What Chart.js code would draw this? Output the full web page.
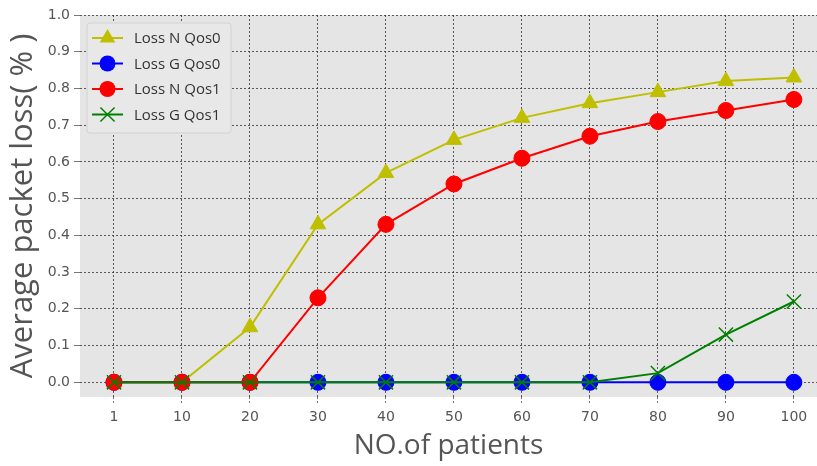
<!DOCTYPE html>
<html>
<head>
<meta charset="utf-8">
<script src="https://cdn.jsdelivr.net/npm/chart.js@4.4.0/dist/chart.umd.min.js"></script>
<style>
  html, body { margin: 0; padding: 0; background: #ffffff; overflow: hidden; }
  #wrap { width: 817px; height: 466px; }
</style>
</head>
<body>
<div id="wrap"><canvas id="c" width="817" height="466"></canvas></div>
<script>
// ---- data ----
const categories = ['1', '10', '20', '30', '40', '50', '60', '70', '80', '90', '100'];
const lossNQos0 = [0, 0, 0.15, 0.43, 0.57, 0.66, 0.72, 0.76, 0.79, 0.82, 0.83];
const lossGQos0 = [0, 0, 0, 0, 0, 0, 0, 0, 0, 0, 0];
const lossNQos1 = [0, 0, 0, 0.23, 0.43, 0.54, 0.61, 0.67, 0.71, 0.74, 0.77];
const lossGQos1 = [0, 0, 0, 0, 0, 0, 0, 0, 0.025, 0.13, 0.22];
const yTickValues = [0.0, 0.1, 0.2, 0.3, 0.4, 0.5, 0.6, 0.7, 0.8, 0.9, 1.0];
const seriesNames = ['Loss N Qos0', 'Loss G Qos0', 'Loss N Qos1', 'Loss G Qos1'];

const FONT = "'DejaVu Sans', sans-serif";
const TFONT = "'Open Sans', sans-serif";

function pts(arr) { return arr.map((v, i) => ({ x: i, y: v })); }

const datasets = [
  { label: seriesNames[0], data: pts(lossNQos0), borderColor: '#bfbf00', backgroundColor: '#bfbf00',
    pointStyle: 'triangle', pointRadius: 9, pointBorderWidth: 1, order: 4 },
  { label: seriesNames[1], data: pts(lossGQos0), borderColor: '#0000ff', backgroundColor: '#0000ff',
    pointStyle: 'circle', pointRadius: 8, pointBorderWidth: 1, order: 3 },
  { label: seriesNames[2], data: pts(lossNQos1), borderColor: '#ff0000', backgroundColor: '#ff0000',
    pointStyle: 'circle', pointRadius: 8, pointBorderWidth: 1, order: 2 },
  { label: seriesNames[3], data: pts(lossGQos1), borderColor: '#008000', backgroundColor: '#008000',
    pointStyle: 'crossRot', pointRadius: 10, pointBorderWidth: 1.5, order: 1 }
];
datasets.forEach(d => { d.borderWidth = 2; d.tension = 0; d.fill = false; d.pointBorderColor = d.borderColor; d.pointBackgroundColor = d.backgroundColor; d.clip = false; });

const bgPlugin = {
  id: 'plotBg',
  beforeDraw(chart) {
    const { ctx, chartArea: a } = chart;
    ctx.save();
    ctx.fillStyle = '#e5e5e5';
    ctx.fillRect(a.left, a.top, a.right - a.left, a.bottom - a.top);
    ctx.restore();
  }
};

function drawMarker(ctx, style, x, y, r, color) {
  ctx.save();
  ctx.fillStyle = color; ctx.strokeStyle = color;
  ctx.beginPath();
  if (style === 'triangle') {
    const w = r * 0.866;
    ctx.moveTo(x, y - r);
    ctx.lineTo(x + w, y + r / 2);
    ctx.lineTo(x - w, y + r / 2);
    ctx.closePath(); ctx.fill();
  } else if (style === 'circle') {
    ctx.arc(x, y, r, 0, Math.PI * 2); ctx.fill();
  } else {
    const o = r * Math.SQRT1_2;
    ctx.lineWidth = 1.5;
    ctx.moveTo(x - o, y - o); ctx.lineTo(x + o, y + o);
    ctx.moveTo(x + o, y - o); ctx.lineTo(x - o, y + o);
    ctx.stroke();
  }
  ctx.restore();
}

const legendPlugin = {
  id: 'insideLegend',
  afterDatasetsDraw(chart) {
    const { ctx, chartArea: a } = chart;
    const bx = a.left + 7, by = a.top + 8, bw = 144, bh = 110;
    ctx.save();
    ctx.beginPath();
    if (ctx.roundRect) ctx.roundRect(bx, by, bw, bh, 3); else ctx.rect(bx, by, bw, bh);
    ctx.fillStyle = '#e8e8e8';
    ctx.fill();
    ctx.strokeStyle = '#d2d2d2';
    ctx.lineWidth = 1;
    ctx.stroke();
    chart.data.datasets.forEach((d, i) => {
      const cy = by + 15 + i * 25.5;
      const x0 = bx + 5, x1 = bx + 36;
      ctx.beginPath();
      ctx.strokeStyle = d.borderColor;
      ctx.lineWidth = 2;
      ctx.moveTo(x0, cy); ctx.lineTo(x1, cy); ctx.stroke();
      drawMarker(ctx, d.pointStyle, (x0 + x1) / 2, cy, d.pointRadius, d.borderColor);
      ctx.fillStyle = '#333333';
      ctx.font = '15px ' + TFONT;
      ctx.textBaseline = 'middle';
      ctx.textAlign = 'left';
      ctx.fillText(d.label, bx + 47, cy + 1);
    });
    ctx.restore();
  }
};

new Chart(document.getElementById('c'), {
  type: 'line',
  data: { datasets },
  plugins: [bgPlugin, legendPlugin],
  options: {
    responsive: false,
    devicePixelRatio: 1,
    animation: false,
    layout: { autoPadding: false, padding: { top: 15, right: 0, left: 0, bottom: 0 } },
    plugins: { legend: { display: false }, tooltip: { enabled: false } },
    scales: {
      x: {
        type: 'linear',
        min: -0.5,
        max: 10.34,
        afterBuildTicks(scale) { scale.ticks = categories.map((c, i) => ({ value: i })); },
        afterFit(scale) { scale.height = 69; scale.paddingLeft = 0; scale.paddingRight = 0; },
        ticks: {
          callback: (v) => categories[v] !== undefined ? categories[v] : '',
          color: '#555555',
          font: { family: FONT, size: 14 },
          padding: 6,
          maxRotation: 0,
          autoSkip: false
        },
        grid: {
          color: 'rgba(40,40,40,0.75)',
          lineWidth: 1,
          drawTicks: true,
          tickLength: 6,
          tickColor: '#777777',
          tickBorderDash: [2, 2]
        },
        border: { display: false, dash: [2, 2] },
        title: {
          display: true,
          text: 'NO.of patients',
          color: '#555555',
          font: { family: TFONT, size: 28 },
          padding: { top: 0, bottom: 3 }
        }
      },
      y: {
        type: 'linear',
        min: -0.04,
        max: 1.0,
        afterBuildTicks(scale) { scale.ticks = yTickValues.map(v => ({ value: v })); },
        afterFit(scale) { scale.width = 80; scale.paddingTop = 0; scale.paddingBottom = 0; },
        ticks: {
          callback: (v) => Number(v).toFixed(1),
          color: '#555555',
          font: { family: FONT, size: 14 },
          padding: 4
        },
        grid: {
          color: 'rgba(40,40,40,0.75)',
          lineWidth: 1,
          drawTicks: true,
          tickLength: 6,
          tickColor: '#777777',
          tickBorderDash: []
        },
        border: { display: false, dash: [2, 2] },
        title: {
          display: true,
          text: 'Average packet loss( % )',
          color: '#555555',
          font: { family: TFONT, size: 31 },
          padding: { top: 5, bottom: 0 }
        }
      }
    }
  }
});
</script>
</body>
</html>
